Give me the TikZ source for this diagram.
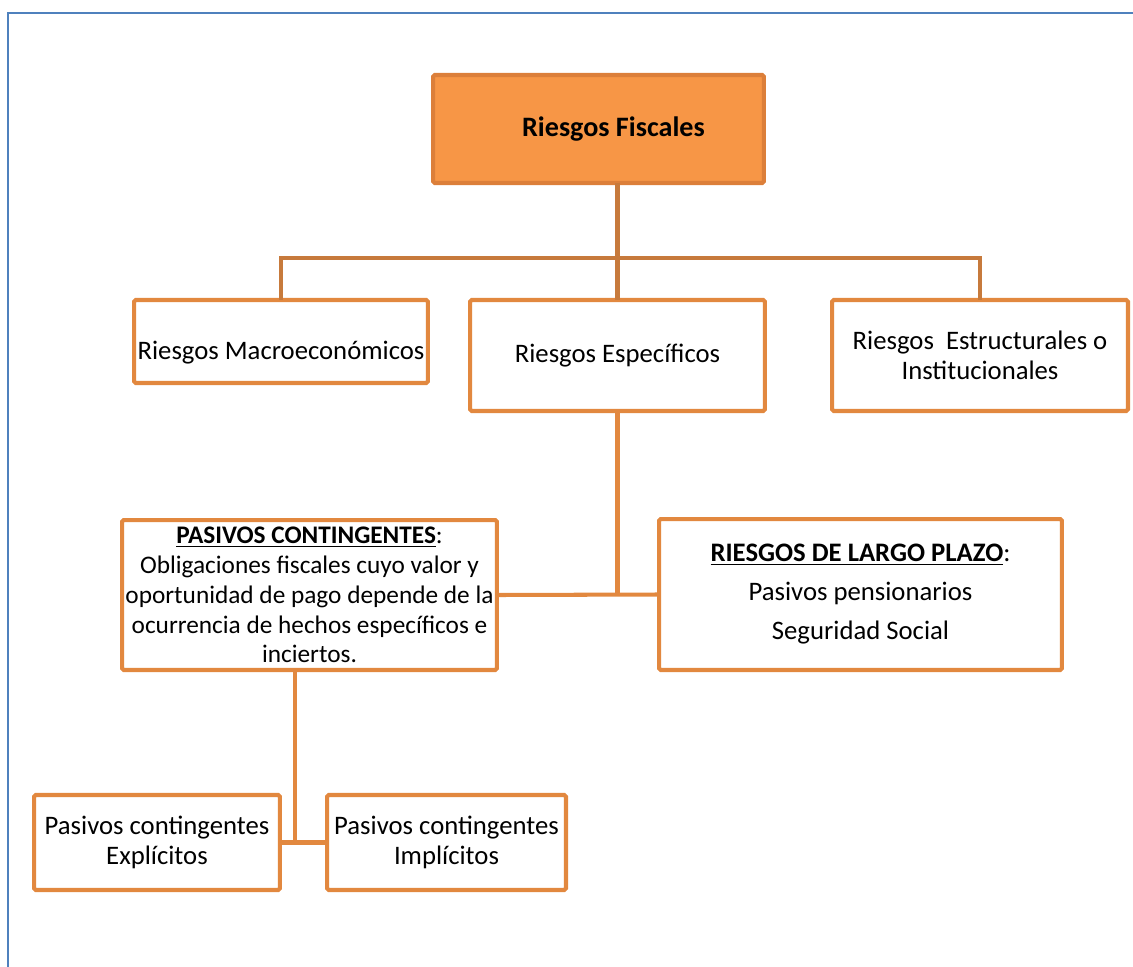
\documentclass[tikz,border=0pt]{standalone}
\usepackage{fontspec}
\setmainfont{Carlito}
\usepackage{tikz}
\usetikzlibrary{positioning}

\definecolor{rootfill}{HTML}{F79646}
\definecolor{rootline}{HTML}{DC7F3A}
\definecolor{boxline}{HTML}{E2883F}
\definecolor{trunkline}{HTML}{C77A3C}
\definecolor{frameline}{HTML}{4F81BD}

\begin{document}
\begin{tikzpicture}[x=0.02cm,y=-0.02cm,
    box/.style={draw=boxline,line width=2.3pt,fill=white,align=center,
      inner sep=2pt,outer sep=0pt,rounded corners=1pt},
    trunk/.style={draw=trunkline,line width=2.4pt},
    link/.style={draw=boxline,line width=2.3pt},
    font=\fontsize{15.2}{17.2}\selectfont]
  \useasboundingbox (0,0) rectangle (1133,967);
  \draw[frameline,line width=1.3pt] (1133,13) -- (8,13) -- (8,967);

  \node[box,fill=rootfill,draw=rootline,minimum width=6.62cm,minimum height=2.16cm,
    font=\fontsize{16}{18}\selectfont\bfseries] (root) at (598.5,129)
    {\hspace*{17pt}Riesgos Fiscales};
  \node[box,minimum width=5.88cm,minimum height=1.66cm,text height=24pt,text depth=4pt]
    (macro) at (281,341.5) {Riesgos Macroeconómicos};
  \node[box,minimum width=5.9cm,minimum height=2.22cm] (espec) at (617.5,355.5) {Riesgos Específicos};
  \node[box,minimum width=5.92cm,minimum height=2.22cm] (estr) at (980,355.5)
    {Riesgos~ Estructurales o\\Institucionales};
  \node[box,minimum width=7.5cm,minimum height=3cm,inner xsep=0pt,
    font=\fontsize{14.4}{17}\selectfont] (pasivos) at (309.5,595)
    {\underline{\textbf{PASIVOS CONTINGENTES}}:\\Obligaciones fiscales cuyo valor y\\
     oportunidad de pago depende de la\\ocurrencia de hechos específicos e\\inciertos.};
  \node[box,minimum width=8.06cm,minimum height=3.02cm] (largo) at (860.5,594.5)
    {\underline{\textbf{RIESGOS DE LARGO PLAZO}}:\\[5pt]Pasivos pensionarios\\[5pt]Seguridad Social};
  \node[box,minimum width=4.92cm,minimum height=1.9cm] (explic) at (157,842.5)
    {Pasivos contingentes\\Explícitos};
  \node[box,minimum width=4.78cm,minimum height=1.9cm] (implic) at (446.5,842.5)
    {Pasivos contingentes\\Implícitos};

  % ramas
  \coordinate (bus) at (617.5,258);
  \coordinate (fork) at (295,842);
  \path[trunk] (macro.north) |- (bus) -| (estr.north);
  \path[trunk] (root.south -| espec.north) -- (espec.north);
  \path[link] (espec.south) -- (espec.south |- pasivos.east);
  \path[link] (pasivos.east) -- (largo.west);
  \path[link] (pasivos.south -| fork) -- (fork);
  \path[link] (explic.east) -- (implic.west);
\end{tikzpicture}
\end{document}
